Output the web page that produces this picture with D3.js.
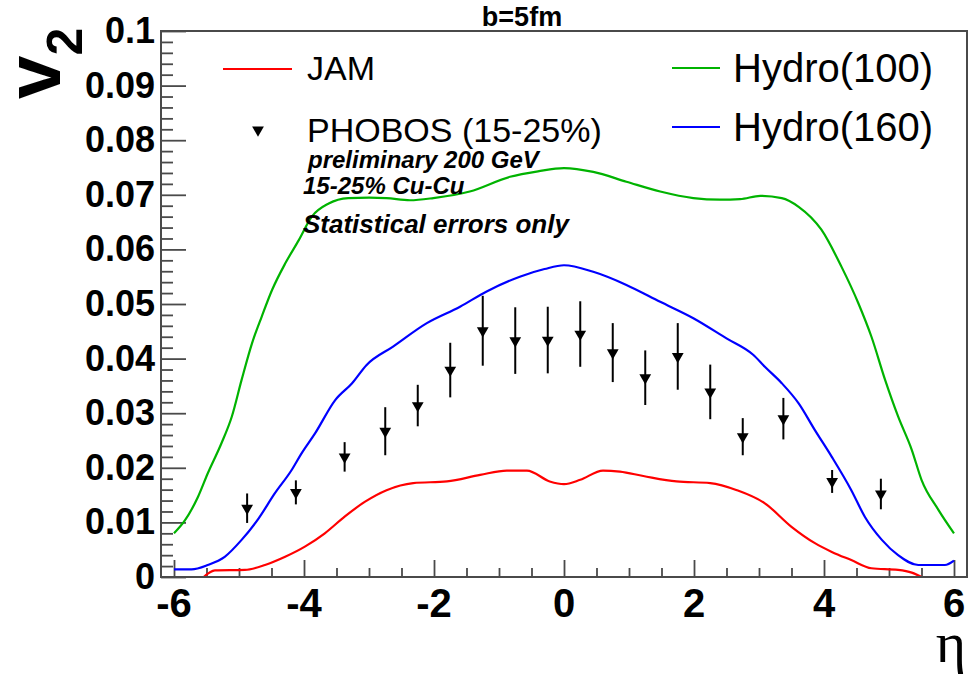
<!DOCTYPE html>
<html>
<head>
<meta charset="utf-8">
<script src="https://cdn.jsdelivr.net/npm/d3@7"></script>
<style>
  html, body { margin: 0; padding: 0; background: #fff; }
  svg { display: block; }
</style>
</head>
<body>
<svg id="chart" width="973" height="678"></svg>
<script>
// v2 vs pseudorapidity, b = 5 fm: JAM transport, two hydro variants, PHOBOS Cu-Cu points

const xTicks = [-6, -4, -2, 0, 2, 4, 6];
const yTicks = [0, 0.01, 0.02, 0.03, 0.04, 0.05, 0.06, 0.07, 0.08, 0.09, 0.1];
const yTickLabels = ["0", "0.01", "0.02", "0.03", "0.04", "0.05", "0.06", "0.07", "0.08", "0.09", "0.1"];

// [eta, v2]
const jam = [
  [-5.56, -0.0002], [-5.37, 0.0012], [-4.91, 0.0013], [-4.60, 0.0022], [-4.29, 0.0037],
  [-3.98, 0.0056], [-3.68, 0.0080], [-3.37, 0.0111], [-3.06, 0.0138], [-2.73, 0.0159],
  [-2.32, 0.0172], [-1.80, 0.0175], [-1.29, 0.0187], [-0.88, 0.0195], [-0.57, 0.0195],
  [-0.22, 0.0175], [0.00, 0.0170], [0.25, 0.0178], [0.60, 0.0195], [0.86, 0.0193],
  [1.22, 0.0185], [1.73, 0.0175], [2.25, 0.0172], [2.66, 0.0159], [3.09, 0.0135],
  [3.50, 0.0092], [3.86, 0.0062], [4.12, 0.0046], [4.42, 0.0031], [4.73, 0.0016],
  [5.14, 0.0013], [5.35, 0.0008], [5.53, -0.0002]
];

const hydro100 = [
  [-6.00, 0.0080], [-5.83, 0.0104], [-5.63, 0.0147], [-5.48, 0.0190], [-5.27, 0.0245],
  [-5.11, 0.0294], [-4.96, 0.0361], [-4.80, 0.0428], [-4.65, 0.0477], [-4.49, 0.0526],
  [-4.29, 0.0574], [-4.08, 0.0617], [-3.88, 0.0660], [-3.62, 0.0684], [-3.32, 0.0694],
  [-3.00, 0.0695], [-2.73, 0.0694], [-2.37, 0.0690], [-2.01, 0.0694], [-1.45, 0.0706],
  [-0.83, 0.0733], [-0.40, 0.0743], [0.00, 0.0749], [0.45, 0.0742], [0.96, 0.0724],
  [1.48, 0.0706], [1.99, 0.0694], [2.40, 0.0691], [2.71, 0.0692], [3.02, 0.0698],
  [3.35, 0.0694], [3.61, 0.0678], [3.96, 0.0636], [4.27, 0.0568], [4.53, 0.0501],
  [4.73, 0.0440], [4.94, 0.0361], [5.14, 0.0294], [5.35, 0.0233], [5.50, 0.0178],
  [5.76, 0.0123], [6.00, 0.0080]
];

const hydro160 = [
  [-6.00, 0.0014], [-5.73, 0.0014], [-5.48, 0.0022], [-5.22, 0.0037], [-4.96, 0.0068],
  [-4.70, 0.0107], [-4.45, 0.0153], [-4.19, 0.0196], [-4.04, 0.0226], [-3.83, 0.0263],
  [-3.52, 0.0324], [-3.26, 0.0355], [-3.04, 0.0388], [-2.63, 0.0422], [-2.11, 0.0465],
  [-1.60, 0.0495], [-1.19, 0.0523], [-0.68, 0.0550], [-0.30, 0.0564], [0.00, 0.0571],
  [0.45, 0.0559], [0.96, 0.0535], [1.48, 0.0504], [1.99, 0.0474], [2.50, 0.0437],
  [2.91, 0.0407], [3.09, 0.0385], [3.35, 0.0355], [3.61, 0.0318], [3.86, 0.0269],
  [4.12, 0.0220], [4.42, 0.0159], [4.63, 0.0110], [4.89, 0.0068], [5.14, 0.0040],
  [5.45, 0.0022], [5.86, 0.0022], [6.00, 0.0030]
];

const phobosEta = [-4.875, -4.125, -3.375, -2.75, -2.25, -1.75, -1.25, -0.75, -0.25,
                   0.25, 0.75, 1.25, 1.75, 2.25, 2.75, 3.375, 4.125, 4.875];
const phobosV2  = [0.0126, 0.0155, 0.0220, 0.0267, 0.0314, 0.0379, 0.0451, 0.0433, 0.0434,
                   0.0445, 0.0411, 0.0365, 0.0404, 0.0339, 0.0257, 0.0290, 0.0175, 0.0152];
const phobosErr = [0.0027, 0.0022, 0.0027, 0.0044, 0.0038, 0.0050, 0.0064, 0.0061, 0.0061,
                   0.0060, 0.0054, 0.0050, 0.0061, 0.0050, 0.0034, 0.0038, 0.0021, 0.0028];

const colors = { jam: "#ff0000", hydro100: "#00b300", hydro160: "#0000ff", frame: "#4a4a4a" };

const frame = { left: 161, top: 31, right: 967, bottom: 577 };

const svg = d3.select("#chart");

const x = d3.scaleLinear().domain([-6.2, 6.2]).range([frame.left, frame.right]);
const y = d3.scaleLinear().domain([0, 0.1]).range([frame.bottom, frame.top]);

// clip region = the frame
svg.append("defs").append("clipPath").attr("id", "plotClip")
  .append("rect")
  .attr("x", frame.left).attr("y", frame.top)
  .attr("width", frame.right - frame.left).attr("height", frame.bottom - frame.top);

// ---- y axis (ticks pointing inward) ----
const yMinor = d3.range(0, 0.1001, 0.002).filter(v => Math.abs(Math.round(v * 100) - v * 100) > 1e-6);
const yAxisMajor = d3.axisRight(y).tickValues(yTicks).tickSize(25).tickFormat("");
const yAxisMinor = d3.axisRight(y).tickValues(yMinor).tickSize(12).tickFormat("");
[yAxisMajor, yAxisMinor].forEach(ax => {
  const g = svg.append("g").attr("transform", `translate(${frame.left},0)`).call(ax);
  g.select(".domain").remove();
  g.selectAll("line").attr("stroke", colors.frame).attr("stroke-width", 1.8);
});
svg.append("g")
  .selectAll("text").data(yTicks).join("text")
  .attr("x", 155)
  .attr("y", d => y(d) + 12)
  .attr("text-anchor", "end")
  .attr("font-family", "'Liberation Sans', Arial, sans-serif")
  .attr("font-weight", "bold")
  .attr("font-size", 36)
  .attr("fill", "#000")
  .text((d, i) => yTickLabels[i]);

// ---- x axis (ticks pointing inward) ----
const xMinor = d3.range(-6, 6.01, 0.5).filter(v => Math.abs(v % 2) > 1e-6);
const xAxisMajor = d3.axisTop(x).tickValues(xTicks).tickSize(17).tickFormat("");
const xAxisMinor = d3.axisTop(x).tickValues(xMinor).tickSize(9).tickFormat("");
[xAxisMajor, xAxisMinor].forEach(ax => {
  const g = svg.append("g").attr("transform", `translate(0,${frame.bottom})`).call(ax);
  g.select(".domain").remove();
  g.selectAll("line").attr("stroke", colors.frame).attr("stroke-width", 1.8);
});
svg.append("g")
  .selectAll("text").data(xTicks).join("text")
  .attr("x", d => x(d))
  .attr("y", 617)
  .attr("text-anchor", "middle")
  .attr("font-family", "'Liberation Sans', Arial, sans-serif")
  .attr("font-weight", "bold")
  .attr("font-size", 40)
  .attr("fill", "#000")
  .text(d => d);

// ---- curves ----
const line = d3.line()
  .x(d => x(d[0]))
  .y(d => y(d[1]))
  .curve(d3.curveMonotoneX);

const curves = svg.append("g").attr("clip-path", "url(#plotClip)");
[[hydro100, colors.hydro100], [hydro160, colors.hydro160], [jam, colors.jam]].forEach(([data, c]) => {
  curves.append("path")
    .datum(data)
    .attr("d", line)
    .attr("fill", "none")
    .attr("stroke", c)
    .attr("stroke-width", 2.2)
    .attr("stroke-linejoin", "round");
});

// ---- PHOBOS points with statistical errors ----
const tri = d3.symbol().type(d3.symbolTriangle).size(60);
const pts = svg.append("g").attr("clip-path", "url(#plotClip)");
phobosEta.forEach((eta, i) => {
  const cx = x(eta), v = phobosV2[i], e = phobosErr[i];
  pts.append("line")
    .attr("x1", cx).attr("x2", cx)
    .attr("y1", y(v + e)).attr("y2", y(v - e))
    .attr("stroke", "#000").attr("stroke-width", 2);
  pts.append("path")
    .attr("d", tri)
    .attr("transform", `translate(${cx},${y(v)}) rotate(180)`)
    .attr("fill", "#000");
});

// ---- frame ----
svg.append("rect")
  .attr("x", frame.left).attr("y", frame.top)
  .attr("width", frame.right - frame.left).attr("height", frame.bottom - frame.top)
  .attr("fill", "none")
  .attr("stroke", colors.frame)
  .attr("stroke-width", 2);

// ---- legends ----
const sans = "'Liberation Sans', Arial, sans-serif";
const leg = svg.append("g");
leg.append("line").attr("x1", 223).attr("x2", 292).attr("y1", 69).attr("y2", 69)
  .attr("stroke", colors.jam).attr("stroke-width", 2.2);
leg.append("text").attr("x", 307).attr("y", 80).attr("font-family", sans)
  .attr("font-size", 34).text("JAM");
leg.append("path").attr("d", tri)
  .attr("transform", "translate(258,130) rotate(180)").attr("fill", "#000");
leg.append("text").attr("x", 307).attr("y", 142).attr("font-family", sans)
  .attr("font-size", 34).text("PHOBOS (15-25%)");

leg.append("line").attr("x1", 672).attr("x2", 720).attr("y1", 68).attr("y2", 68)
  .attr("stroke", colors.hydro100).attr("stroke-width", 2.2);
leg.append("text").attr("x", 733).attr("y", 82).attr("font-family", sans)
  .attr("font-size", 40).text("Hydro(100)");
leg.append("line").attr("x1", 672).attr("x2", 720).attr("y1", 127).attr("y2", 127)
  .attr("stroke", colors.hydro160).attr("stroke-width", 2.2);
leg.append("text").attr("x", 733).attr("y", 141).attr("font-family", sans)
  .attr("font-size", 40).text("Hydro(160)");

// ---- annotations ----
const notes = [
  { t: "preliminary 200 GeV", x: 308, y: 168, s: 24 },
  { t: "15-25% Cu-Cu", x: 303, y: 194, s: 24 },
  { t: "Statistical errors only", x: 303, y: 233, s: 26 }
];
svg.append("g").selectAll("text").data(notes).join("text")
  .attr("x", d => d.x).attr("y", d => d.y)
  .attr("font-family", sans)
  .attr("font-weight", "bold").attr("font-style", "italic")
  .attr("font-size", d => d.s)
  .text(d => d.t);

// ---- title ----
svg.append("text").attr("x", 522).attr("y", 26).attr("text-anchor", "middle")
  .attr("font-family", sans).attr("font-weight", "bold").attr("font-size", 27)
  .text("b=5fm");

// ---- axis titles ----
const yTitle = svg.append("text")
  .attr("transform", "translate(60,99) rotate(-90)")
  .attr("font-family", sans).attr("font-weight", "bold").attr("font-size", 78);
yTitle.append("tspan").text("v");
yTitle.append("tspan").attr("font-size", 50).attr("dy", 22).text("2");

svg.append("text").attr("x", 966).attr("y", 662).attr("text-anchor", "end")
  .attr("font-family", "'Liberation Serif', 'DejaVu Serif', serif")
  .attr("font-size", 58).text("η");
</script>
</body>
</html>
